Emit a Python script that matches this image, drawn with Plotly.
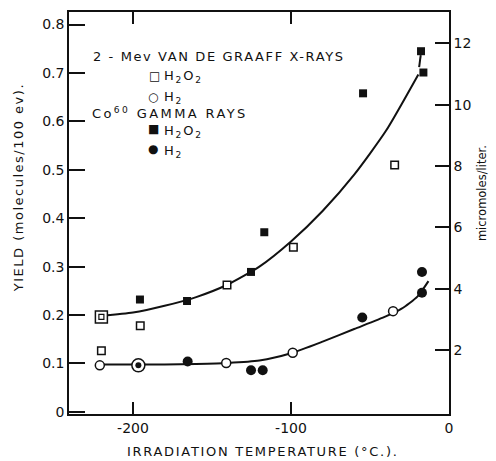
import plotly.graph_objects as go

# ---------------- data ----------------
# 2-MeV Van de Graaff X-rays
xray_h2o2_x = [-220, -195.4, -140.5, -98.5, -34.4]
xray_h2o2_y = [0.126, 0.178, 0.262, 0.340, 0.510]
xray_h2_x = [-221, -141, -98.9, -35.4]
xray_h2_y = [0.096, 0.101, 0.122, 0.208]

# Co-60 gamma rays
gamma_h2o2_x = [-195.6, -165.8, -125.3, -116.9, -54.4, -17.7, -16.2]
gamma_h2o2_y = [0.232, 0.229, 0.289, 0.371, 0.658, 0.745, 0.701]
gamma_h2_x = [-165.4, -125.3, -117.9, -54.9, -17.1, -17.1]
gamma_h2_y = [0.104, 0.086, 0.086, 0.195, 0.289, 0.246]

# coincident points (drawn as doubled symbols)
double_h2o2_x = [-220]
double_h2o2_y = [0.196]
double_h2_x = [-196.6]
double_h2_y = [0.096]

# hand-drawn fitted curves, read point by point
curve_h2o2_x = [-220, -200, -180, -160, -140, -120, -100, -80, -60, -40, -19.4]
curve_h2o2_y = [0.198, 0.205, 0.219, 0.237, 0.263, 0.300, 0.352, 0.415, 0.490, 0.580, 0.697]
curve_h2o2_dash_x = [-18.9, -17.9]
curve_h2o2_dash_y = [0.712, 0.737]
curve_h2_x = [-220, -200, -180, -160, -140, -120, -100, -80, -60, -40, -30, -20, -13]
curve_h2_y = [0.098, 0.098, 0.098, 0.099, 0.101, 0.106, 0.121, 0.145, 0.171, 0.197, 0.213, 0.238, 0.270]

x_tick_vals = [-200, -100, 0]
x_tick_text = ["-200", "-100", "0"]
y_tick_vals = [0, 0.1, 0.2, 0.3, 0.4, 0.5, 0.6, 0.7, 0.8]
y_tick_text = ["0", "0.1", "0.2", "0.3", "0.4", "0.5", "0.6", "0.7", "0.8"]
y2_tick_vals = [2, 4, 6, 8, 10, 12]
y2_tick_text = ["2", "4", "6", "8", "10", "12"]

# ---------------- layout geometry ----------------
W, H = 496, 461
L, R, T, B = 69, 449, 10, 414
FONT = "DejaVu Sans"
INK = "#111111"


def px(xp):
    return (xp - L) / (R - L)


def py(yp):
    return (B - yp) / (B - T)


def spaced(s, sp):
    return '<span style="letter-spacing:%.1fpx">%s</span>' % (sp, s)


fig = go.Figure()

line_style = dict(color=INK, width=2)
fig.add_trace(go.Scatter(x=curve_h2o2_x, y=curve_h2o2_y, mode="lines",
                         line=dict(shape="spline", smoothing=0.6, **line_style)))
fig.add_trace(go.Scatter(x=curve_h2o2_dash_x, y=curve_h2o2_dash_y, mode="lines",
                         line=line_style))
fig.add_trace(go.Scatter(x=curve_h2_x, y=curve_h2_y, mode="lines",
                         line=dict(shape="spline", smoothing=0.6, **line_style)))

open_line = dict(color=INK, width=1.5)
fig.add_trace(go.Scatter(x=xray_h2o2_x, y=xray_h2o2_y, mode="markers",
                         marker=dict(symbol="square", size=7.5, color="white", line=open_line)))
fig.add_trace(go.Scatter(x=xray_h2_x, y=xray_h2_y, mode="markers",
                         marker=dict(symbol="circle", size=9, color="white", line=open_line)))
fig.add_trace(go.Scatter(x=gamma_h2o2_x, y=gamma_h2o2_y, mode="markers",
                         marker=dict(symbol="square", size=8, color=INK, line=dict(width=0))))
fig.add_trace(go.Scatter(x=gamma_h2_x, y=gamma_h2_y, mode="markers",
                         marker=dict(symbol="circle", size=10, color=INK, line=dict(width=0))))

# doubled symbols
fig.add_trace(go.Scatter(x=double_h2o2_x, y=double_h2o2_y, mode="markers",
                         marker=dict(symbol="square", size=12, color="white", line=open_line)))
fig.add_trace(go.Scatter(x=double_h2o2_x, y=double_h2o2_y, mode="markers",
                         marker=dict(symbol="square", size=5, color="white", line=dict(color=INK, width=1.2))))
fig.add_trace(go.Scatter(x=double_h2_x, y=double_h2_y, mode="markers",
                         marker=dict(symbol="circle", size=13, color="white", line=open_line)))
fig.add_trace(go.Scatter(x=double_h2_x, y=double_h2_y, mode="markers",
                         marker=dict(symbol="circle", size=6, color=INK, line=dict(width=0))))

# secondary axis carrier (invisible)
fig.add_trace(go.Scatter(x=[None], y=[None], yaxis="y2", mode="markers", showlegend=False))

tick_font = dict(family=FONT, size=14, color=INK)
fig.update_layout(
    width=W, height=H,
    margin=dict(l=L, r=W - R, t=T, b=H - B),
    paper_bgcolor="white", plot_bgcolor="white",
    showlegend=False,
    xaxis=dict(range=[-240.5, 0], tickvals=x_tick_vals, ticktext=x_tick_text,
               ticks="inside", ticklen=12, tickwidth=1.5, tickcolor=INK,
               showline=True, linecolor=INK, linewidth=1.5, mirror="ticks",
               showgrid=False, zeroline=False, tickfont=tick_font),
    yaxis=dict(range=[-0.0045, 0.826], tickvals=y_tick_vals, ticktext=y_tick_text,
               ticks="inside", ticklen=16, tickwidth=1.5, tickcolor=INK,
               showline=True, linecolor=INK, linewidth=1.5,
               showgrid=False, zeroline=False, tickfont=tick_font),
    yaxis2=dict(range=[-0.08, 13.02], overlaying="y", side="right",
                tickvals=y2_tick_vals, ticktext=y2_tick_text,
                ticks="inside", ticklen=14, tickwidth=1.5, tickcolor=INK,
                showline=True, linecolor=INK, linewidth=1.5,
                showgrid=False, zeroline=False, tickfont=tick_font),
)

ann_font = dict(family=FONT, size=13, color=INK)
sym_font = dict(family=FONT, size=12, color=INK)
annotations = [
    dict(text=spaced("2 - Mev VAN DE GRAAFF X-RAYS", 1.6), x=px(91), y=py(55), xanchor="left"),
    dict(text="□", x=px(154), y=py(74), xanchor="center", font=sym_font),
    dict(text=spaced("H<sub>2</sub>O<sub>2</sub>", 1.8), x=px(162), y=py(75), xanchor="left"),
    dict(text="○", x=px(153), y=py(95), xanchor="center", font=sym_font),
    dict(text=spaced("H<sub>2</sub>", 1.8), x=px(162), y=py(96), xanchor="left"),
    dict(text=spaced("Co<sup>60</sup> GAMMA RAYS", 2.4), x=px(90), y=py(111), xanchor="left"),
    dict(text="■", x=px(153), y=py(128), xanchor="center", font=sym_font),
    dict(text=spaced("H<sub>2</sub>O<sub>2</sub>", 1.8), x=px(162), y=py(130), xanchor="left"),
    dict(text="●", x=px(153), y=py(148), xanchor="center", font=sym_font),
    dict(text=spaced("H<sub>2</sub>", 1.8), x=px(162), y=py(150), xanchor="left"),
    dict(text=spaced("IRRADIATION TEMPERATURE (°C.).", 1.7), x=px(125), y=py(452), xanchor="left"),
    dict(text=spaced("YIELD (molecules/100 ev).", 1.5), x=px(18), y=py(80), xanchor="center",
         yanchor="top", textangle=-90),
    dict(text="micromoles/liter.", x=px(482), y=py(192), xanchor="center", textangle=-90,
         font=dict(family=FONT, size=11.5, color=INK)),
]
for a in annotations:
    a.setdefault("font", ann_font)
    a.setdefault("yanchor", "middle")
    a.update(xref="paper", yref="paper", showarrow=False)
fig.update_layout(annotations=annotations)

fig.write_html("out.html")
